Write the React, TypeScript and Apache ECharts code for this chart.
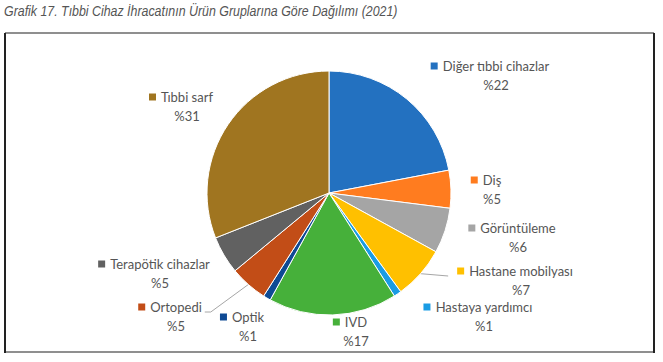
import React, { useEffect, useRef } from 'react';
import * as echarts from 'echarts';

const titleText = 'Grafik 17. Tıbbi Cihaz İhracatının Ürün Gruplarına Göre Dağılımı (2021)';
const categories = [
  'Diğer tıbbi cihazlar',
  'Diş',
  'Görüntüleme',
  'Hastane mobilyası',
  'Hastaya yardımcı',
  'IVD',
  'Optik',
  'Ortopedi',
  'Terapötik cihazlar',
  'Tıbbi sarf',
];
const shares = [22, 5, 6, 7, 1, 17, 1, 5, 5, 31];
const colors = [
  '#2371C0', '#FF7C1F', '#A5A5A5', '#FFC000', '#1A9CE4',
  '#46B03A', '#0E4A94', '#C24D17', '#616161', '#A07520',
];

// label layout: centre x of the name text, centre y of first line
const labelAnchors: Record<string, [number, number]> = {
  'Diğer tıbbi cihazlar': [496, 66],
  'Diş': [492, 180],
  'Görüntüleme': [518, 228],
  'Hastane mobilyası': [521, 271],
  'Hastaya yardımcı': [484, 307],
  'IVD': [356, 322],
  'Optik': [248, 317],
  'Ortopedi': [176, 307],
  'Terapötik cihazlar': [160, 264],
  'Tıbbi sarf': [187, 97],
};
const leaderSide: Record<string, 'left' | 'right'> = {
  'Hastane mobilyası': 'left',
  'Ortopedi': 'right',
};

const LABEL_FONT = 'Lato';
const LINE_H = 19;
const MARK_W = 12;

function richFor(color: string) {
  return {
    m: { width: 7, height: 7, backgroundColor: color, verticalAlign: 'middle' },
    g: { width: 5, height: 7 },
    n: { fontSize: 13, fontFamily: LABEL_FONT, color: '#555555', lineHeight: LINE_H },
    p: { fontSize: 13, fontFamily: LABEL_FONT, color: '#555555', lineHeight: LINE_H, padding: [0, 0, 0, MARK_W] },
  };
}

function measure(text: string, font: string) {
  const c = document.createElement('canvas').getContext('2d');
  if (!c) return 400;
  c.font = font;
  return c.measureText(text).width;
}

export default function App() {
  const ref = useRef<HTMLDivElement>(null);
  useEffect(() => {
    if (!ref.current) return;
    const chart = echarts.init(ref.current, undefined, { renderer: 'svg' });
    const titleFont = 'italic 14px "Liberation Sans"';
    const tw = measure(titleText, titleFont);
    const titleScale = 394 / tw;

    const option: any = {
      animation: false,
      backgroundColor: '#ffffff',
      graphic: [
        {
          type: 'text',
          x: 4,
          y: 4,
          scaleX: titleScale,
          style: {
            text: titleText,
            fontSize: 14,
            fontStyle: 'italic',
            fontFamily: 'Liberation Sans',
            fill: '#555555',
          },
        },
        { type: 'line', shape: { x1: 5, y1: 33, x2: 654, y2: 33 }, style: { stroke: '#8f8f8f', lineWidth: 2 } },
        { type: 'line', shape: { x1: 5, y1: 352, x2: 654, y2: 352 }, style: { stroke: '#8f8f8f', lineWidth: 2 } },
        { type: 'line', shape: { x1: 5, y1: 33, x2: 5, y2: 353 }, style: { stroke: '#222', lineWidth: 2 } },
        { type: 'line', shape: { x1: 654, y1: 33, x2: 654, y2: 353 }, style: { stroke: '#222', lineWidth: 2 } },
      ],
      series: [
        {
          type: 'pie',
          center: [329, 193],
          radius: 122,
          startAngle: 90,
          clockwise: true,
          avoidLabelOverlap: false,
          itemStyle: { borderColor: '#ffffff', borderWidth: 1 },
          label: {
            show: true,
            position: 'outside',
            formatter: (p: any) => `{m| }{g| }{n|${p.name}}\n{p|%${p.value}}`,
          },
          labelLine: { show: false, lineStyle: { color: '#A6A6A6', width: 1 }, smooth: false },
          labelLayout: (params: any) => {
            const name = categories[params.dataIndex];
            const [cx, cy] = labelAnchors[name];
            const w = params.labelRect.width;
            const blockCenter = cx - MARK_W / 2;
            const res: any = { x: blockCenter, y: cy - LINE_H / 2, align: 'center', verticalAlign: 'top' };
            const side = leaderSide[name];
            if (side && params.labelLinePoints) {
              const start = params.labelLinePoints[0];
              if (side === 'left') {
                const left = blockCenter - w / 2;
                res.labelLinePoints = [start, [left - 9, cy + 5]];
              } else {
                const right = blockCenter + w / 2;
                res.labelLinePoints = [start, [right + 9, cy + 5], [right + 3, cy + 5]];
              }
            }
            return res;
          },
          data: categories.map((name, i) => ({
            name,
            value: shares[i],
            itemStyle: { color: colors[i] },
            label: { rich: richFor(colors[i]) },
            labelLine: { show: !!leaderSide[name] },
          })),
        },
      ],
    };
    chart.setOption(option);
    return () => chart.dispose();
  }, []);
  return (
    <div
      ref={ref}
      style={{ position: 'fixed', left: 0, top: 0, width: 663, height: 362, background: '#fff' }}
    />
  );
}
